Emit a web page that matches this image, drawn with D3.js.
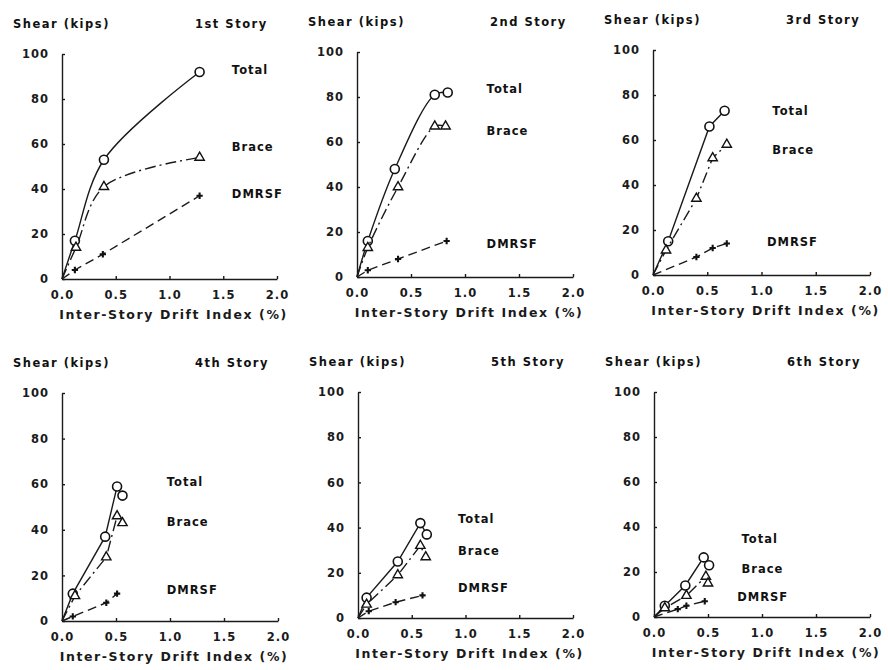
<html>
<head>
<meta charset="utf-8">
<script src="https://d3js.org/d3.v7.min.js"></script>
<style>
body { margin:0; background:#fff; }
svg { display:block; }
.axis path, .axis line { stroke:#1a1a1a; stroke-width:1.4; }
.axis text { font:600 11.5px "DejaVu Sans", sans-serif; fill:#1a1a1a; letter-spacing:1px; }
.ttl { font:bold 11.5px "DejaVu Sans", sans-serif; fill:#111; letter-spacing:1.5px; }
.xlab { font:600 12.5px "DejaVu Sans", sans-serif; fill:#1a1a1a; letter-spacing:1.6px; }
.slab { font:bold 11.5px "DejaVu Sans", sans-serif; fill:#111; letter-spacing:1px; }
</style>
</head>
<body>
<div id="chart"></div>
<script>

// story titles and tick labels
var stories = ["1st Story", "2nd Story", "3rd Story", "4th Story", "5th Story", "6th Story"];
var yTicks = [0, 20, 40, 60, 80, 100];
var xTicks = [0, 0.5, 1.0, 1.5, 2.0];
var seriesNames = ["Total", "Brace", "DMRSF"];

// [drift %, shear kips]
var total1 = [[0,0],[0.12,17],[0.39,53],[1.28,92]];
var brace1 = [[0,0],[0.13,14],[0.39,41],[1.28,54]];
var dmrsf1 = [[0,0],[0.12,4],[0.38,11],[1.28,37]];

var total2 = [[0,0],[0.1,16],[0.35,48],[0.72,81],[0.84,82]];
var brace2 = [[0,0],[0.1,13],[0.38,40],[0.72,67],[0.82,67]];
var dmrsf2 = [[0,0],[0.1,3],[0.38,8],[0.83,16]];

var total3 = [[0,0],[0.14,15],[0.52,66],[0.66,73]];
var brace3 = [[0,0],[0.12,11],[0.4,34],[0.55,52],[0.68,58]];
var dmrsf3 = [[0,0],[0.4,8],[0.55,12],[0.68,14]];

var total4 = [[0,0],[0.1,12],[0.4,37],[0.51,59],[0.56,55]];
var brace4 = [[0,0],[0.12,11],[0.41,28],[0.51,46],[0.56,43]];
var dmrsf4 = [[0,0],[0.1,2],[0.41,8],[0.51,12]];

var total5 = [[0,0],[0.08,9],[0.37,25],[0.58,42],[0.64,37]];
var brace5 = [[0,0],[0.08,6],[0.37,19],[0.58,32],[0.63,27]];
var dmrsf5 = [[0,0],[0.1,3],[0.35,7],[0.6,10]];

var total6 = [[0,0],[0.1,5],[0.29,14],[0.46,26.5],[0.51,23]];
var brace6 = [[0,0],[0.1,4],[0.3,9.5],[0.48,18],[0.5,15]];
var dmrsf6 = [[0,0],[0.22,3.5],[0.3,5],[0.47,7]];

var allSeries = [
  [total1, brace1, dmrsf1],
  [total2, brace2, dmrsf2],
  [total3, brace3, dmrsf3],
  [total4, brace4, dmrsf4],
  [total5, brace5, dmrsf5],
  [total6, brace6, dmrsf6]
];

// panel placement (pixels) and where the series names sit (data units)
var panels = [
  {x0:62,  x2:277, y100:54,  y0:279, smooth:true,  lab:[[1.58,91],[1.58,57],[1.58,36]]},
  {x0:357, x2:573, y100:52,  y0:277, smooth:true,  lab:[[1.2,82],[1.2,63],[1.2,13]]},
  {x0:653, x2:870, y100:50,  y0:275, smooth:false, lab:[[1.1,71],[1.1,54],[1.05,13]]},
  {x0:62,  x2:278, y100:393, y0:621, smooth:false, lab:[[0.97,59],[0.97,41.5],[0.97,12]]},
  {x0:358, x2:573, y100:392, y0:618, smooth:false, lab:[[0.93,42],[0.93,28],[0.93,11.5]]},
  {x0:654, x2:870, y100:392, y0:617, smooth:false, lab:[[0.81,33],[0.81,19.5],[0.77,7]]}
];

var dashes = [null, "11,4,2,4", "9,5"];

var svg = d3.select("#chart").append("svg")
    .attr("width", 888)
    .attr("height", 670);

panels.forEach(function(p, i) {

  var x = d3.scaleLinear().domain([0, 2]).range([p.x0, p.x2]);
  var y = d3.scaleLinear().domain([0, 100]).range([p.y0, p.y100]);

  var g = svg.append("g");

  g.append("g")
    .attr("class", "axis")
    .attr("transform", "translate(0," + p.y0 + ")")
    .call(d3.axisBottom(x).tickValues(xTicks).tickFormat(d3.format(".1f"))
      .tickSizeInner(-3).tickSizeOuter(0).tickPadding(12));

  g.append("g")
    .attr("class", "axis")
    .attr("transform", "translate(" + p.x0 + ",0)")
    .call(d3.axisLeft(y).tickValues(yTicks)
      .tickSizeInner(-3).tickSizeOuter(0).tickPadding(13));

  // titles
  g.append("text").attr("class", "ttl")
    .attr("x", p.x0 - 49).attr("y", p.y100 - 26)
    .text("Shear (kips)");
  g.append("text").attr("class", "ttl")
    .attr("x", p.x0 + 133).attr("y", p.y100 - 26)
    .text(stories[i]);
  g.append("text").attr("class", "xlab")
    .attr("x", (p.x0 + p.x2) / 2 + 4).attr("y", p.y0 + 40)
    .attr("text-anchor", "middle")
    .text("Inter-Story Drift Index (%)");

  var series = allSeries[i];

  series.forEach(function(s, k) {
    var line = d3.line()
      .x(function(d) { return x(d[0]); })
      .y(function(d) { return y(d[1]); })
      .curve(p.smooth && k < 2 ? d3.curveCatmullRom.alpha(0.5) : d3.curveLinear);

    g.append("path")
      .datum(s)
      .attr("fill", "none")
      .attr("stroke", "#1a1a1a")
      .attr("stroke-width", 1.4)
      .attr("stroke-dasharray", dashes[k])
      .attr("d", line);

    var pts = s.slice(1);
    if (k == 0) {
      g.selectAll(null).data(pts).enter().append("circle")
        .attr("cx", function(d) { return x(d[0]); })
        .attr("cy", function(d) { return y(d[1]); })
        .attr("r", 4.5)
        .attr("fill", "#fff")
        .attr("stroke", "#111")
        .attr("stroke-width", 1.6);
    } else if (k == 1) {
      g.selectAll(null).data(pts).enter().append("path")
        .attr("transform", function(d) { return "translate(" + x(d[0]) + "," + y(d[1]) + ")"; })
        .attr("d", d3.symbol().type(d3.symbolTriangle).size(38))
        .attr("fill", "#fff")
        .attr("stroke", "#111")
        .attr("stroke-width", 1.4);
    } else {
      g.selectAll(null).data(pts).enter().append("path")
        .attr("transform", function(d) { return "translate(" + x(d[0]) + "," + y(d[1]) + ")"; })
        .attr("d", d3.symbol().type(d3.symbolCross).size(22))
        .attr("fill", "#111");
    }

    g.append("text").attr("class", "slab")
      .attr("x", x(p.lab[k][0]))
      .attr("y", y(p.lab[k][1]))
      .attr("fill", k == 1 ? "#333" : "#111")
      .text(seriesNames[k]);
  });
});

</script>
</body>
</html>
